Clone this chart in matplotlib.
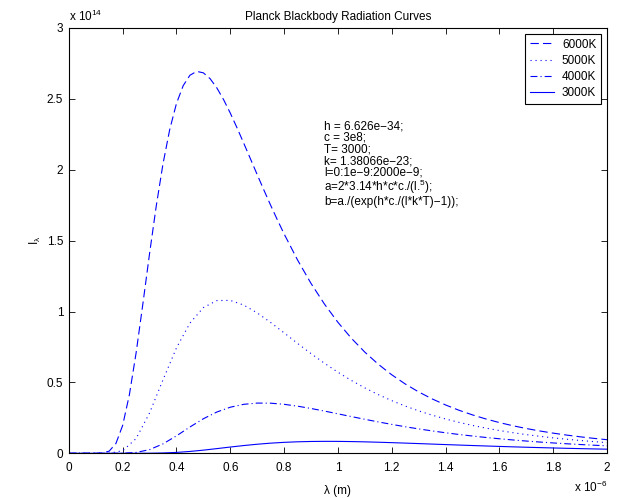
"""
Planck blackbody radiation curves (recreated from a MATLAB figure)
"""

import matplotlib
matplotlib.use("Agg")
import matplotlib.pyplot as plt
from matplotlib.ticker import FormatStrFormatter


# wavelength in units of 1e-6 m, intensity in units of 1e14
wl_6000 = [0, 0.05, 0.1, 0.125, 0.15, 0.175, 0.2, 0.225, 0.25, 0.275, 0.3,
           0.325, 0.35, 0.375, 0.4, 0.425, 0.45, 0.475, 0.5, 0.525, 0.55,
           0.575, 0.6, 0.625, 0.65, 0.675, 0.7, 0.725, 0.75, 0.775, 0.8,
           0.85, 0.9, 0.95, 1.0, 1.05, 1.1, 1.15, 1.2, 1.25, 1.3, 1.35, 1.4,
           1.45, 1.5, 1.55, 1.6, 1.65, 1.7, 1.75, 1.8, 1.85, 1.9, 1.95, 2.0]
i_6000 = [0, 0, 0.0000, 0.0015, 0.0151, 0.0688, 0.1959, 0.4123, 0.7074,
          1.0510, 1.4079, 1.7453, 2.0418, 2.2839, 2.4673, 2.5930, 2.6664,
          2.6940, 2.6836, 2.6425, 2.5777, 2.4952, 2.3999, 2.2962, 2.1875,
          2.0769, 1.9659, 1.8565, 1.7497, 1.6467, 1.5478,
          1.3635, 1.1985, 1.0524, 0.9240, 0.8115, 0.7136, 0.6282, 0.5539,
          0.4892, 0.4330, 0.3838, 0.3410, 0.3035, 0.2708, 0.2420, 0.2167,
          0.1944, 0.1748, 0.1574, 0.1421, 0.1284, 0.1163, 0.1055, 0.0958]

wl = [0, 0.05, 0.1, 0.15, 0.2, 0.25, 0.3, 0.35, 0.4, 0.45, 0.5, 0.55, 0.6,
      0.65, 0.7, 0.75, 0.8, 0.85, 0.9, 0.95, 1.0, 1.05, 1.1, 1.15, 1.2,
      1.25, 1.3, 1.35, 1.4, 1.45, 1.5, 1.55, 1.6, 1.65, 1.7, 1.75, 1.8,
      1.85, 1.9, 1.95, 2.0]
i_5000 = [0, 0, 0, 0.0006, 0.0178, 0.1037, 0.2843, 0.5182, 0.7433, 0.9178,
          1.0277, 1.0772, 1.0785, 1.0455, 0.9904, 0.9228, 0.8494, 0.7753,
          0.7032, 0.6351, 0.5717, 0.5139, 0.4613, 0.4139, 0.3713, 0.3333,
          0.2993, 0.2690, 0.2421, 0.2180, 0.1966, 0.1776, 0.1605, 0.1454,
          0.1318, 0.1197, 0.1088, 0.0991, 0.0903, 0.0825, 0.0754]
i_4000 = [0, 0, 0, 0, 0.0005, 0.0058, 0.0258, 0.0663, 0.1229, 0.1853,
          0.2435, 0.2909, 0.3249, 0.3454, 0.3541, 0.3534, 0.3454, 0.3324,
          0.3160, 0.2977, 0.2783, 0.2589, 0.2397, 0.2213, 0.2038, 0.1873,
          0.1720, 0.1578, 0.1447, 0.1327, 0.1217, 0.1116, 0.1024, 0.0940,
          0.0863, 0.0793, 0.0729, 0.0671, 0.0618, 0.0570, 0.0526]
i_3000 = [0, 0, 0, 0, 0, 0.0000, 0.0005, 0.0022, 0.0061, 0.0129, 0.0221,
          0.0329, 0.0440, 0.0545, 0.0638, 0.0714, 0.0771, 0.0810, 0.0833,
          0.0842, 0.0839, 0.0826, 0.0806, 0.0780, 0.0750, 0.0718, 0.0684,
          0.0649, 0.0614, 0.0580, 0.0547, 0.0515, 0.0484, 0.0454, 0.0426,
          0.0400, 0.0375, 0.0351, 0.0329, 0.0308, 0.0289]

labels = ["6000K", "5000K", "4000K", "3000K"]

x_ticks = [0, 0.2, 0.4, 0.6, 0.8, 1.0, 1.2, 1.4, 1.6, 1.8, 2.0]
y_ticks = [0, 0.5, 1.0, 1.5, 2.0, 2.5, 3.0]

code_lines = [
    "h = 6.626e\u221234;",
    "c = 3e8;",
    "T= 3000;",
    "k= 1.38066e\u221223;",
    "l=0:1e\u22129:2000e\u22129;",
    "a=2*3.14*h*c*c./(l.$^{\\mathregular{5}}$);",
    "b=a./(exp(h*c./(l*k*T)\u22121));",
]

FS = 8.5


def main() -> None:
    plt.rcParams["font.family"] = ["Liberation Sans", "DejaVu Sans"]
    plt.rcParams["mathtext.fontset"] = "custom"
    plt.rcParams["mathtext.rm"] = "Liberation Sans"
    plt.rcParams["mathtext.it"] = "Liberation Sans"
    plt.rcParams["font.size"] = FS
    plt.rcParams["lines.scale_dashes"] = False

    fig = plt.figure(figsize=(6.2, 4.98), dpi=100)
    ax = fig.add_axes([0.111, 0.0898, 0.868, 0.854])

    blue = (0, 0, 1)
    lw = 0.8
    ax.plot(wl_6000, i_6000, color=blue, lw=lw, dashes=(6, 3), label=labels[0])
    ax.plot(wl, i_5000, color=blue, lw=lw, dashes=(0.8, 2.8), label=labels[1])
    ax.plot(wl, i_4000, color=blue, lw=lw, dashes=(5, 2.2, 0.8, 2.2), label=labels[2])
    ax.plot(wl, i_3000, color=blue, lw=lw, linestyle="-", label=labels[3])

    ax.set_xlim(0, 2)
    ax.set_ylim(0, 3)
    ax.set_xticks(x_ticks)
    ax.set_yticks(y_ticks)
    ax.xaxis.set_major_formatter(FormatStrFormatter("%g"))
    ax.yaxis.set_major_formatter(FormatStrFormatter("%g"))
    ax.tick_params(direction="in", length=4, width=0.6, top=True, right=True,
                   labelsize=FS)
    ax.tick_params(axis="x", pad=6)
    ax.tick_params(axis="y", pad=4)
    for spine in ax.spines.values():
        spine.set_linewidth(0.8)

    ax.set_title("Planck Blackbody Radiation Curves", fontsize=FS, pad=6)
    ax.set_xlabel("\u03bb (m)", fontsize=FS, labelpad=8)
    ax.set_ylabel("I$_{\\mathregular{\u03bb}}$", fontsize=FS, labelpad=3)

    # MATLAB style exponent labels
    ax.text(0.0, 1.01, "x 10$^{\\mathregular{14}}$", transform=ax.transAxes,
            ha="left", va="bottom", fontsize=FS)
    ax.text(1.0, -0.062, "x 10$^{\\mathregular{\u22126}}$", transform=ax.transAxes,
            ha="right", va="top", fontsize=FS)

    # code annotation, the superscript line needs a little more room
    y = 0.762
    for line in code_lines:
        tall = "$" in line
        if tall:
            y -= 0.007
        ax.text(0.474, y, line, transform=ax.transAxes,
                ha="left", va="baseline", fontsize=FS)
        y -= 0.0275 + (0.007 if tall else 0)

    leg = ax.legend(loc="upper right", fontsize=FS, handlelength=2.0,
                    labelspacing=0.36, borderaxespad=0.5, fancybox=False,
                    framealpha=1, edgecolor="black", borderpad=0.4,
                    handletextpad=0.7)
    leg.get_frame().set_linewidth(0.8)

    fig.savefig("out.png", dpi=100)
    plt.close(fig)


if __name__ == "__main__":
    main()
